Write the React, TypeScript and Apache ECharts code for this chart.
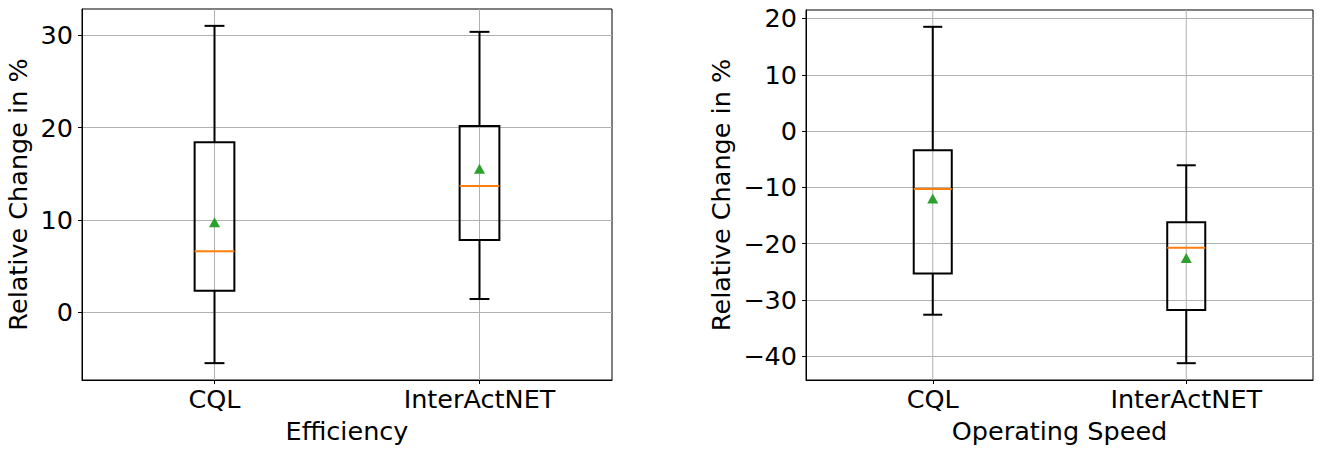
import React, { useEffect, useRef } from "react";
import * as echarts from "echarts";

const categories = ["CQL", "InterActNET"];

// Efficiency (left panel)
const effWhiskerLow = [-5.55, 1.41];
const effQ1 = [2.31, 7.82];
const effMedian = [6.6, 13.68];
const effQ3 = [18.42, 20.18];
const effWhiskerHigh = [31.04, 30.39];
const effMean = [9.74, 15.55];
const effTicks = [0, 10, 20, 30];

// Operating Speed (right panel)
const spdWhiskerLow = [-32.63, -41.24];
const spdQ1 = [-25.3, -31.81];
const spdMedian = [-10.3, -20.73];
const spdQ3 = [-3.43, -16.19];
const spdWhiskerHigh = [18.52, -6.08];
const spdMean = [-11.98, -22.54];
const spdTicks = [-40, -30, -20, -10, 0, 10, 20];

const yTitle = "Relative Change in %";
const xTitles = ["Efficiency", "Operating Speed"];

const FONT = "DejaVu Sans";
const FS = 25.5;

function limits(lo: number[], hi: number[]) {
  const mn = Math.min(...lo);
  const mx = Math.max(...hi);
  const m = (mx - mn) * 0.05;
  return [mn - m, mx + m];
}

function fmt(v: number) {
  return v < 0 ? "\u2212" + Math.abs(v) : String(v);
}

function boxData(lo: number[], q1: number[], med: number[], q3: number[], hi: number[]) {
  return categories.map((_, i) => [i, lo[i], q1[i], med[i], q3[i], hi[i]]);
}

const renderBox = (params: any, api: any) => {
  const i = api.value(0);
  const cs = params.coordSys;
  const band = api.size([1, 0])[0];
  const bw = band * 0.15;
  const cw = bw / 2;
  const pLo = api.coord([i, api.value(1)]);
  const pQ1 = api.coord([i, api.value(2)]);
  const pMed = api.coord([i, api.value(3)]);
  const pQ3 = api.coord([i, api.value(4)]);
  const pHi = api.coord([i, api.value(5)]);
  const cx = pLo[0];
  const black = { stroke: "#000", lineWidth: 2, fill: "none" };
  return {
    type: "group",
    children: [
      { type: "line", shape: { x1: cx, y1: cs.y, x2: cx, y2: cs.y + cs.height }, style: { stroke: "#b0b0b0", lineWidth: 1 } },
      { type: "line", shape: { x1: cx, y1: pQ3[1], x2: cx, y2: pHi[1] }, style: black },
      { type: "line", shape: { x1: cx, y1: pQ1[1], x2: cx, y2: pLo[1] }, style: black },
      { type: "line", shape: { x1: cx - cw / 2, y1: pHi[1], x2: cx + cw / 2, y2: pHi[1] }, style: black },
      { type: "line", shape: { x1: cx - cw / 2, y1: pLo[1], x2: cx + cw / 2, y2: pLo[1] }, style: black },
      { type: "rect", shape: { x: cx - bw / 2, y: pQ3[1], width: bw, height: pQ1[1] - pQ3[1] }, style: black },
      { type: "line", shape: { x1: cx - bw / 2, y1: pMed[1], x2: cx + bw / 2, y2: pMed[1] }, style: { stroke: "#ff7f0e", lineWidth: 2 } },
    ],
  };
};

export default function App() {
  const ref = useRef<HTMLDivElement>(null);
  useEffect(() => {
    if (!ref.current) return;
    const chart = echarts.init(ref.current, null, { renderer: "svg" });
    const effLim = limits(effWhiskerLow, effWhiskerHigh);
    const spdLim = limits(spdWhiskerLow, spdWhiskerHigh);
    const grids = [
      { left: 82, top: 9, width: 530, height: 372 },
      { left: 806, top: 10, width: 507, height: 371 },
    ];
    const xAxis = [0, 1].map((g) => ({
      type: "category",
      gridIndex: g,
      data: categories,
      boundaryGap: true,
      name: xTitles[g],
      nameLocation: "middle",
      nameGap: 38,
      nameMoveOverlap: false,
      nameTextStyle: { fontFamily: FONT, fontSize: FS, color: "#000" },
      axisLine: { show: true, onZero: false, lineStyle: { color: "#000", width: 1 } },
      axisTick: { show: true, alignWithLabel: true, length: 4, lineStyle: { color: "#000", width: 1 } },
      axisLabel: { fontFamily: FONT, fontSize: FS, color: "#000", margin: 6 },
      splitLine: { show: false },
    }));
    const ySpec = [
      { lim: effLim, ticks: effTicks, gap: 51 },
      { lim: spdLim, ticks: spdTicks, gap: 72 },
    ];
    const yAxis = ySpec.map((s, g) => ({
      type: "value",
      gridIndex: g,
      min: s.lim[0],
      max: s.lim[1],
      name: yTitle,
      nameLocation: "middle",
      nameRotate: 90,
      nameGap: s.gap,
      nameMoveOverlap: false,
      nameTextStyle: { fontFamily: FONT, fontSize: FS, color: "#000" },
      axisLine: { show: true, onZero: false, lineStyle: { color: "#000", width: 1 } },
      axisTick: { show: true, length: 4, customValues: s.ticks, lineStyle: { color: "#000", width: 1 } },
      axisLabel: {
        fontFamily: FONT,
        fontSize: FS,
        color: "#000",
        margin: 9,
        customValues: s.ticks,
        formatter: (v: number) => fmt(v),
      },
      splitLine: { show: true, lineStyle: { color: "#b0b0b0", width: 1 } },
    }));
    const meanStyle = { color: "#2ca02c", opacity: 1 };
    const series: any[] = [
      {
        type: "custom",
        xAxisIndex: 0,
        yAxisIndex: 0,
        renderItem: renderBox,
        encode: { x: 0, y: [1, 2, 3, 4, 5] },
        data: boxData(effWhiskerLow, effQ1, effMedian, effQ3, effWhiskerHigh),
        z: 2,
      },
      {
        type: "custom",
        xAxisIndex: 1,
        yAxisIndex: 1,
        renderItem: renderBox,
        encode: { x: 0, y: [1, 2, 3, 4, 5] },
        data: boxData(spdWhiskerLow, spdQ1, spdMedian, spdQ3, spdWhiskerHigh),
        z: 2,
      },
      {
        type: "scatter",
        xAxisIndex: 0,
        yAxisIndex: 0,
        symbol: "triangle",
        symbolSize: [11, 10],
        itemStyle: meanStyle,
        data: effMean,
        z: 3,
      },
      {
        type: "scatter",
        xAxisIndex: 1,
        yAxisIndex: 1,
        symbol: "triangle",
        symbolSize: [11, 10],
        itemStyle: meanStyle,
        data: spdMean,
        z: 3,
      },
    ];
    chart.setOption({
      animation: false,
      backgroundColor: "#fff",
      grid: grids.map((g) => ({ ...g, show: true, borderColor: "#000", borderWidth: 1, backgroundColor: "transparent" })),
      xAxis,
      yAxis,
      series,
    });
    return () => chart.dispose();
  }, []);
  return <div ref={ref} style={{ position: "absolute", left: 0, top: 0, width: 1323, height: 449 }} />;
}
